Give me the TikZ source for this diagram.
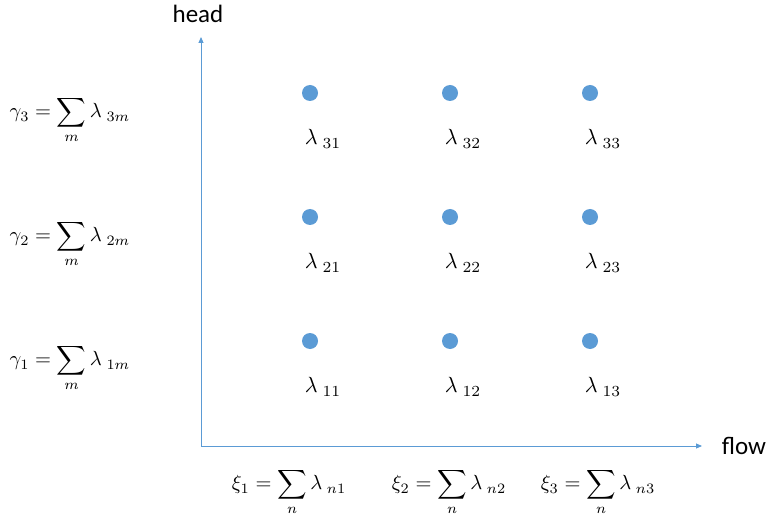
\documentclass[tikz,border=0pt]{standalone}
\usepackage{fontspec}
\newfontfamily\labelfont{Carlito}
\usetikzlibrary{arrows.meta}
\definecolor{axisblue}{RGB}{91,155,213}
\tikzset{
  dot/.style={circle,fill=axisblue,inner sep=0pt,minimum size=16pt},
  lam/.style={inner sep=0pt,scale=2.2},
  sumlab/.style={inner sep=0pt,scale=2.05},
  axislab/.style={inner sep=0pt,font=\labelfont\fontsize{25}{30}\selectfont},
  axis/.style={draw=axisblue,line width=0.9pt,-{Triangle[length=6pt,width=5pt]}}
}
\begin{document}
\begin{tikzpicture}[x=1pt,y=-1pt]
\useasboundingbox (0,0) rectangle (767,526);
\coordinate (o) at (201,446);
\coordinate (ytip) at (201,37);
\coordinate (xtip) at (702,446);
\draw[axis] (o) -- (ytip);
\draw[axis] (o) -- (xtip);
\node[axislab] (head) at (198,14) {head};
\node[axislab] (flow) at (744,446) {flow};
% dots and labels
\foreach \r/\y in {3/93,2/217,1/341}{
  \foreach \c/\x in {1/310,2/450,3/590}{
    \node[dot] (d\r\c) at (\x,\y) {};
    \node[lam] (l\r\c) at (\x+13,\y+46) {$\lambda_{\;\r\c}$};
  }
}
% row sums
\node[sumlab] (g3) at (70,120) {$\gamma_3 = \displaystyle\sum_m \lambda_{\;3m}$};
\node[sumlab] (g2) at (70,244) {$\gamma_2 = \displaystyle\sum_m \lambda_{\;2m}$};
\node[sumlab] (g1) at (70,368) {$\gamma_1 = \displaystyle\sum_m \lambda_{\;1m}$};
% column sums
\node[sumlab] (x1) at (289,492) {$\xi_1 = \displaystyle\sum_n \lambda_{\;n1}$};
\node[sumlab] (x2) at (449,492) {$\xi_2 = \displaystyle\sum_n \lambda_{\;n2}$};
\node[sumlab] (x3) at (598,492) {$\xi_3 = \displaystyle\sum_n \lambda_{\;n3}$};
\end{tikzpicture}
\end{document}
